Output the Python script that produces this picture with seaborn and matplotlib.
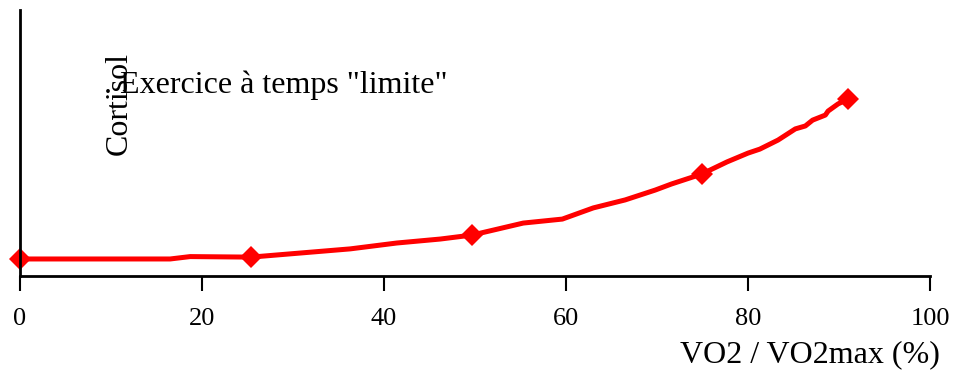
import numpy as np
import pandas as pd
import matplotlib
matplotlib.use("Agg")
import matplotlib.pyplot as plt
import seaborn as sns

# data (y in arbitrary cortisol units, 0-100)
vo2_curve = [0, 16.5, 18.7, 25.4, 36.3, 41.4, 46.2, 49.7, 55.3, 59.6, 63.0, 66.5,
             69.8, 71.6, 74.9, 77.7, 80.0, 81.3, 83.3, 85.2, 86.3, 87.1, 88.5,
             88.8, 89.9, 91.0]
cortisol_curve = [6.4, 6.4, 7.3, 7.1, 10.2, 12.4, 13.9, 15.4, 19.9, 21.4, 25.6, 28.6,
                  32.3, 34.6, 38.3, 42.9, 46.2, 47.7, 51.1, 55.3, 56.4, 58.6, 60.5,
                  62.0, 64.7, 66.5]
vo2_points = [0, 25.4, 49.7, 74.9, 91.0]
cortisol_points = [6.4, 7.1, 15.4, 38.3, 66.5]
xticks = [0, 20, 40, 60, 80, 100]

curve = pd.DataFrame({"vo2": vo2_curve, "cortisol": cortisol_curve})
points = pd.DataFrame({"vo2": vo2_points, "cortisol": cortisol_points})

sns.set_theme(style="white")
plt.rcParams["font.family"] = ["Liberation Serif", "DejaVu Serif"]

fig = plt.figure(figsize=(9.55, 3.7), dpi=100)
ax = fig.add_axes([20 / 955, 94 / 370, 910 / 955, 266 / 370])

sns.lineplot(data=curve, x="vo2", y="cortisol", color="#ff0000", linewidth=3.6,
             ax=ax, clip_on=False)
sns.lineplot(data=points, x="vo2", y="cortisol", color="#ff0000", linestyle="none",
             marker="D", markersize=11.5, markeredgewidth=0, ax=ax, clip_on=False)

ax.set_xlim(0, 100)
ax.set_ylim(0, 100)
ax.set_xticks(xticks)
ax.set_yticks([])
ax.set_ylabel("")
ax.tick_params(axis="x", direction="out", length=11, width=1.5, pad=12,
               labelsize=19, colors="black", bottom=True)

for side in ["top", "right"]:
    ax.spines[side].set_visible(False)
for side in ["left", "bottom"]:
    ax.spines[side].set_color("black")
    ax.spines[side].set_linewidth(2)

ax.set_xlabel("VO2 / VO2max (%)", fontsize=23, color="black")
ax.xaxis.label.set_ha("right")
ax.xaxis.label.set_va("baseline")
ax.xaxis.set_label_coords(1.011, -0.323)

ax.text(0.1088, 0.647, "Cortisol", rotation=90, ha="center", va="center",
        fontsize=23, color="black", transform=ax.transAxes)
ax.text(0.0923, 0.688, '. Exercice à temps "limite"', ha="left", va="baseline",
        fontsize=23, color="black", transform=ax.transAxes)

fig.savefig("out.png", dpi=100)
